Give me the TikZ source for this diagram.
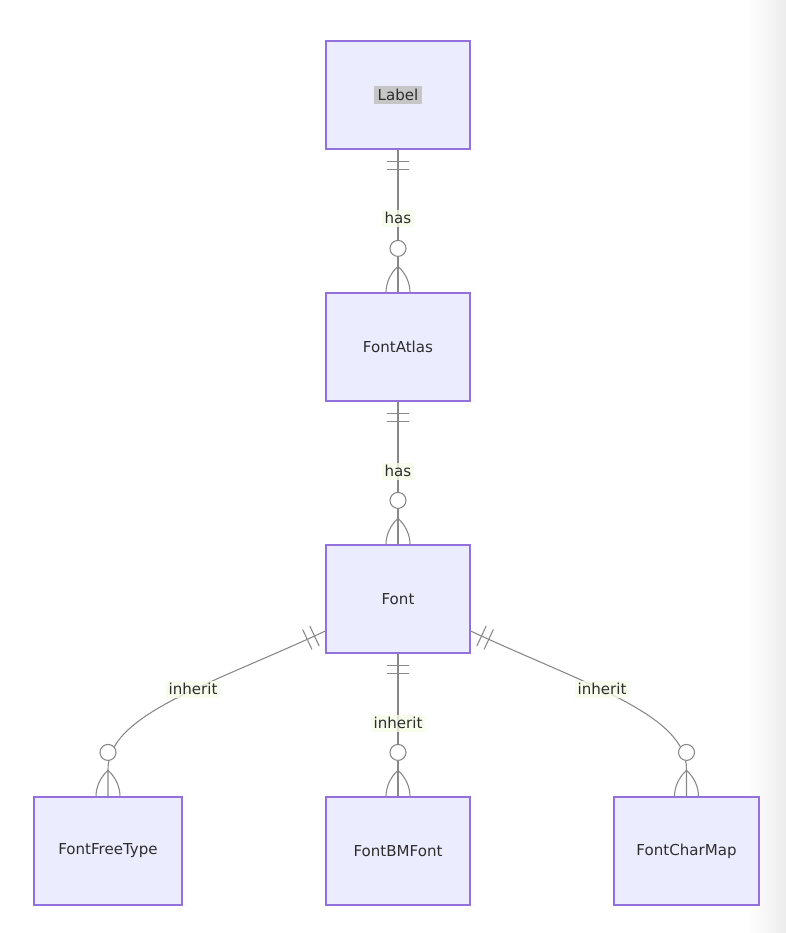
\documentclass[tikz,border=0pt]{standalone}
\usepackage{fontspec}
\setmainfont{DejaVu Sans}
\usetikzlibrary{calc}
\definecolor{boxfill}{RGB}{236,236,255}
\definecolor{boxline}{RGB}{147,112,219}
\definecolor{edgecol}{RGB}{136,136,136}
\definecolor{txt}{RGB}{45,45,45}
\definecolor{lblbg}{RGB}{246,252,232}
\definecolor{hlgray}{RGB}{198,198,198}
\definecolor{shadowcol}{RGB}{236,236,236}
\newcommand\onemark[2]{%
  \coordinate (om1) at ($(#1)!9pt!(#2)$);
  \coordinate (om2) at ($(#1)!15pt!(#2)$);
  \draw[rel] ($(om1)!8.25pt!90:(#1)$) -- ($(om1)!8.25pt!-90:(#1)$);
  \draw[rel] ($(om2)!8.25pt!90:(#1)$) -- ($(om2)!8.25pt!-90:(#1)$);
}
\newcommand\zeromany[1]{%
  \draw[rel] ($(#1)+(0,-26)$) .. controls ($(#1)+(-8,-19)$) and ($(#1)+(-12,-9)$) .. ($(#1)+(-12,0)$);
  \draw[rel] ($(#1)+(0,-26)$) .. controls ($(#1)+(8,-19)$) and ($(#1)+(12,-9)$) .. ($(#1)+(12,0)$);
  \draw[rel, fill=white] ($(#1)+(0,-44)$) circle[radius=6pt];
}
\begin{document}
\begin{tikzpicture}[x=0.75pt,y=-0.75pt,
  entity/.style={draw=boxline, fill=boxfill, line width=0.9pt, minimum width=108pt,
    minimum height=81pt, inner sep=0pt, text=txt, font=\fontsize{11.3pt}{13pt}\selectfont},
  rel/.style={draw=edgecol, line width=0.8pt},
  elabel/.style={fill=lblbg, fill opacity=0.8, text opacity=1, text=txt, inner sep=2pt,
    font=\fontsize{11.3pt}{13pt}\selectfont}
]
\useasboundingbox (0,0) rectangle (786,933);
\fill[white] (0,0) rectangle (786,933);
\shade[left color=white, right color=shadowcol] (748,0) rectangle (786,933);

% entities
\node[entity] (label) at (398,95) {\setlength\fboxsep{2.5pt}\colorbox{hlgray}{Label}};
\node[entity] (atlas) at (398,347) {FontAtlas};
\node[entity] (font) at (398,599) {Font};
\node[entity, minimum width=111pt] (ff) at (108,851) {FontFreeType};
\node[entity] (bm) at (398,851) {FontBMFont};
\node[entity, minimum width=108.75pt] (cm) at (686.5,851) {FontCharMap};

% Label -> FontAtlas
\draw[rel] (label.south) -- (atlas.north);
\onemark{label.south}{atlas.north}
\zeromany{atlas.north}
\node[elabel] (l1) at (398,218) {has};

% FontAtlas -> Font
\draw[rel] (atlas.south) -- (font.north);
\onemark{atlas.south}{font.north}
\zeromany{font.north}
\node[elabel] (l2) at (398,471) {has};

% Font -> FontBMFont
\draw[rel] (font.south) -- (bm.north);
\onemark{font.south}{bm.north}
\zeromany{bm.north}
\node[elabel] (l4) at (398,723) {inherit};

% Font -> FontFreeType
\coordinate (fl) at ($(font.west)+(0,32)$);
\coordinate (flc) at ($(fl)+(-116,54)$);
\draw[rel] (fl) .. controls (flc) and ($(ff.north)+(0,-82)$) .. ($(ff.north)+(0,-27)$) -- (ff.north);
\onemark{fl}{flc}
\zeromany{ff.north}
\node[elabel] (l3) at (193,689) {inherit};

% Font -> FontCharMap
\coordinate (fr) at ($(font.east)+(0,32)$);
\coordinate (frc) at ($(fr)+(116,54)$);
\draw[rel] (fr) .. controls (frc) and ($(cm.north)+(0,-82)$) .. ($(cm.north)+(0,-27)$) -- (cm.north);
\onemark{fr}{frc}
\zeromany{cm.north}
\node[elabel] (l5) at (602,689) {inherit};
\end{tikzpicture}
\end{document}
